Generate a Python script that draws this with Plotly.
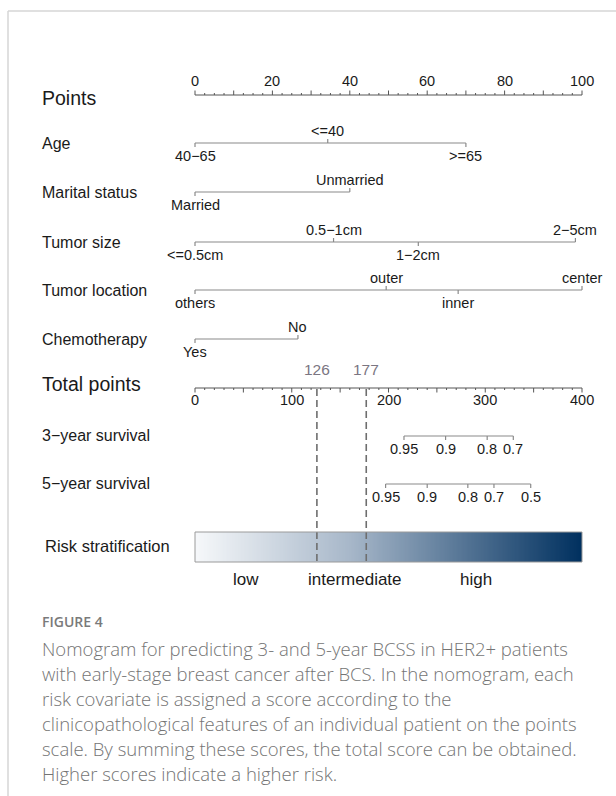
import numpy as np
import plotly.graph_objects as go

# ---- nomogram data -------------------------------------------------------
points_max = 100
total_max = 400

age_levels = ["40−65", "<=40", ">=65"]
age_points = [0, 34.3, 70.0]

marital_levels = ["Married", "Unmarried"]
marital_points = [0, 40.0]

size_levels = ["<=0.5cm", "0.5−1cm", "1−2cm", "2−5cm"]
size_points = [0, 35.8, 57.7, 98.3]

location_levels = ["others", "outer", "inner", "center"]
location_points = [0, 49.4, 68.0, 100.0]

chemo_levels = ["Yes", "No"]
chemo_points = [0, 26.6]

surv3_labels = ["0.95", "0.9", "0.8", "0.7"]
surv3_total = [216, 259, 302, 329]

surv5_labels = ["0.95", "0.9", "0.8", "0.7", "0.5"]
surv5_total = [197, 240, 282, 309, 347]

cutoffs = [126, 177]
risk_labels = ["low", "intermediate", "high"]
risk_label_pos = [53, 165, 290]

caption_title = "FIGURE 4"
caption_lines = [
    "Nomogram for predicting 3- and 5-year BCSS in HER2+ patients",
    "with early-stage breast cancer after BCS. In the nomogram, each",
    "risk covariate is assigned a score according to the",
    "clinicopathological features of an individual patient on the points",
    "scale. By summing these scores, the total score can be obtained.",
    "Higher scores indicate a higher risk.",
]

# ---- page geometry -------------------------------------------------------
W, H = 616, 796
X0_PX, X1_PX = 195, 582          # where 0 and max of each scale sit


def scale_range(vmax):
    span = vmax * W / (X1_PX - X0_PX)
    r0 = -X0_PX / W * span
    return [r0, r0 + span]


FONT = "Liberation Sans, Arial, sans-serif"
TXT = "#1a1a1a"
LINE = "#8a8a8a"
AXIS = "#555555"

fig = go.Figure()
annotations = []


def seg_trace(xs, ys, axis="x", color=LINE, width=1.2, dash=None):
    fig.add_trace(go.Scatter(
        x=xs, y=ys, mode="lines", xaxis=axis, yaxis="y",
        line=dict(color=color, width=width, dash=dash),
        hoverinfo="skip", showlegend=False))


def label(x, y, text, axis="x", size=14.5, color=TXT, xanchor="center", family=FONT):
    annotations.append(dict(
        x=x, y=y, xref=axis, yref="y", text=text, showarrow=False,
        xanchor=xanchor, yanchor="middle",
        font=dict(family=family, size=size, color=color)))


def left_label(y, text, size=16, x_px=40):
    annotations.append(dict(
        x=x_px / W, y=y, xref="paper", yref="y", text=text, showarrow=False,
        xanchor="left", yanchor="middle",
        font=dict(family=FONT, size=size, color=TXT)))


# ---- Points scale (top) --------------------------------------------------
pts_y = 95
seg_trace([0, points_max], [pts_y, pts_y], color=AXIS, width=1)
tx, ty = [], []
for v in np.arange(0, points_max + 0.01, 2.5):
    h = 4.5 if v % 10 == 0 else 2
    tx += [v, v, None]
    ty += [pts_y, pts_y - h, None]
seg_trace(tx, ty, color=AXIS, width=1)
for v in range(0, points_max + 1, 20):
    label(v, 81, str(v))
left_label(98, "Points", size=19.5)

# ---- covariate scales ----------------------------------------------------
variables = [
    ("Age", age_levels, age_points, 143, ["below", "above", "below"]),
    ("Marital status", marital_levels, marital_points, 192, ["below", "above"]),
    ("Tumor size", size_levels, size_points, 242, ["below", "above", "below", "above"]),
    ("Tumor location", location_levels, location_points, 290, ["below", "above", "below", "above"]),
    ("Chemotherapy", chemo_levels, chemo_points, 339, ["below", "above"]),
]
for name, levels, pts, yl, sides in variables:
    seg_trace([min(pts), max(pts)], [yl, yl])
    tx, ty = [], []
    for lev, p, side in zip(levels, pts, sides):
        d = -4 if side == "above" else 4
        tx += [p, p, None]
        ty += [yl, yl + d, None]
        label(p, yl - 12 if side == "above" else yl + 13, lev)
    seg_trace(tx, ty)
    left_label(yl, name)

# ---- Total points scale --------------------------------------------------
tot_y = 388
seg_trace([0, total_max], [tot_y, tot_y], axis="x2", color=AXIS, width=1)
tx, ty = [], []
for v in range(0, total_max + 1, 10):
    h = 4.5 if v % 50 == 0 else 2
    tx += [v, v, None]
    ty += [tot_y, tot_y + h, None]
seg_trace(tx, ty, axis="x2", color=AXIS, width=1)
for v in range(0, total_max + 1, 100):
    label(v, 400, str(v), axis="x2")
left_label(384, "Total points", size=19.5)

# ---- survival scales -----------------------------------------------------
for name, labs, tots, yl in [("3−year survival", surv3_labels, surv3_total, 436),
                             ("5−year survival", surv5_labels, surv5_total, 484)]:
    seg_trace([min(tots), max(tots)], [yl, yl], axis="x2")
    tx, ty = [], []
    for lab, t in zip(labs, tots):
        tx += [t, t, None]
        ty += [yl, yl + 4, None]
        label(t, yl + 13, lab, axis="x2")
    seg_trace(tx, ty, axis="x2")
    left_label(yl - 1, name)

# ---- risk stratification bar ---------------------------------------------
bar_top, bar_bot = 532, 562
edges = np.linspace(0, total_max, 301)
centers = (edges[:-1] + edges[1:]) / 2
fig.add_trace(go.Heatmap(
    x=edges, y=[bar_top, bar_bot], z=[centers], xaxis="x2", yaxis="y",
    colorscale=[[0, "#f6f8fa"], [0.4, "#a7b7c9"], [1, "#00305f"]],
    showscale=False, hoverinfo="skip"))
fig.add_shape(type="rect", xref="x2", yref="y", x0=0, x1=total_max,
              y0=bar_top, y1=bar_bot, line=dict(color="#9a9a9a", width=1))
left_label(546, "Risk stratification", size=16.5, x_px=43)
for lab, p in zip(risk_labels, risk_label_pos):
    label(p, 579, lab, axis="x2", size=17)

# ---- cut-off lines -------------------------------------------------------
for c in cutoffs:
    seg_trace([c, c], [tot_y + 1, bar_bot], axis="x2", color="#6e6e6e",
              width=1.6, dash="7px,4px")
    label(c, 369, str(c), axis="x2", size=15.5, color="#7b7682")

# ---- caption -------------------------------------------------------------
annotations.append(dict(
    x=40 / W, y=621, xref="paper", yref="y", text=caption_title, showarrow=False,
    xanchor="left", yanchor="middle",
    font=dict(family="Open Sans, sans-serif", size=14, color="#7a7a7a", weight=600)))
for i, line in enumerate(caption_lines):
    annotations.append(dict(
        x=40 / W, y=648 + 25 * i, xref="paper", yref="y", text=line,
        showarrow=False, xanchor="left", yanchor="middle",
        font=dict(family="Open Sans, sans-serif", size=18.5, color="#747474",
                  weight=300)))

# ---- panel frame ---------------------------------------------------------
frame = dict(color="#d6d6d6", width=1.5)
fig.add_shape(type="line", xref="paper", yref="y", x0=8 / W, x1=1, y0=11, y1=11, line=frame)
fig.add_shape(type="line", xref="paper", yref="y", x0=8 / W, x1=8 / W, y0=11, y1=H, line=frame)

fig.update_layout(
    width=W, height=H, margin=dict(l=0, r=0, t=0, b=0),
    paper_bgcolor="white", plot_bgcolor="white",
    xaxis=dict(range=scale_range(points_max), visible=False, fixedrange=True),
    xaxis2=dict(range=scale_range(total_max), visible=False, overlaying="x",
                fixedrange=True),
    yaxis=dict(range=[H, 0], visible=False, fixedrange=True),
    annotations=annotations,
    showlegend=False,
)

fig.write_html("out.html", config={"displayModeBar": False})
